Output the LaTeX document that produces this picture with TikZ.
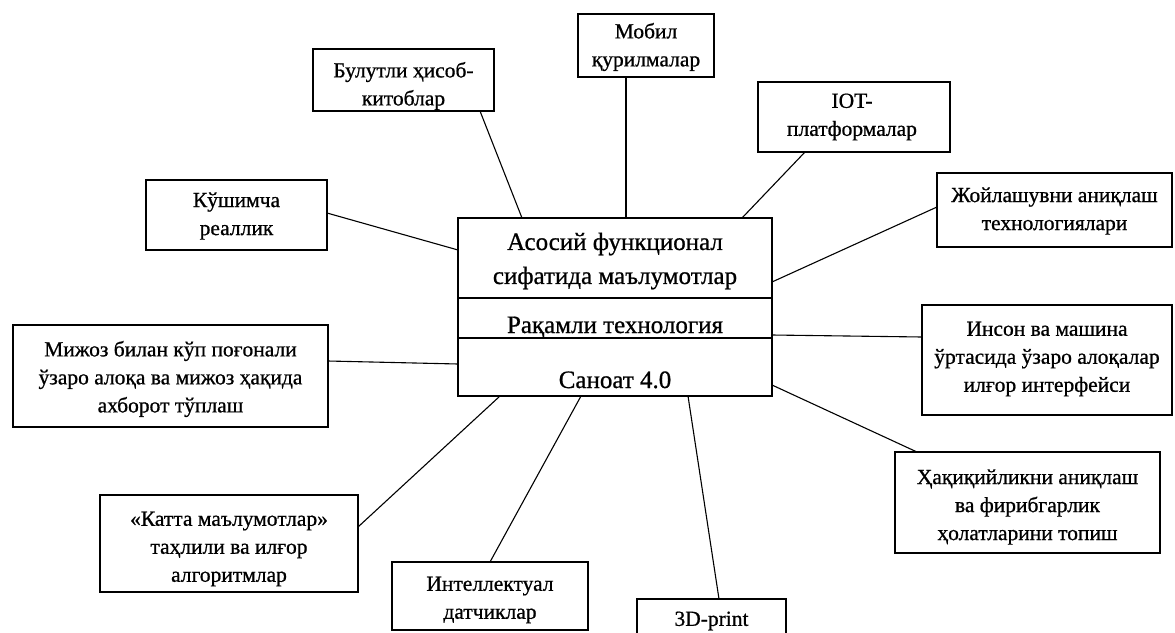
\documentclass[tikz,border=0pt]{standalone}
\usepackage{fontspec}
\setmainfont{Liberation Serif}
\newfontfamily\scanfont{Liberation Serif}[FakeBold=0.8]
\begin{document}
\begin{tikzpicture}[x=1pt,y=-1pt,
  frame/.style={draw, line width=1.1pt, inner sep=0pt},
  txt/.style={align=center, inner sep=0pt,
    font=\scanfont\fontsize{21.5}{28}\selectfont},
  ctxt/.style={align=center, inner sep=0pt,
    font=\scanfont\fontsize{25}{34}\selectfont},
  link/.style={line width=1.1pt}]
\useasboundingbox (0,0) rectangle (1175,632);
% central block
\node[frame, minimum width=314pt, minimum height=80pt] (c1) at (615,258) {};
\node[frame, minimum width=314pt, minimum height=40pt] (c2) at (615,318) {};
\node[frame, minimum width=314pt, minimum height=58pt] (c3) at (615,367) {};
\node[ctxt] (c1T) at (615,261) {Асосий функционал\\сифатида маълумотлар};
\node[ctxt, anchor=base] (c2T) at (615,333) {Рақамли технология};
\node[ctxt, anchor=base] (c3T) at (615,388) {Саноат 4.0};
% outer boxes
\node[frame, minimum width=181pt, minimum height=62pt] (cloud) at (403.5,80) {};
\node[txt] (cloudT) at (403.5,86) {Булутли ҳисоб-\\китоблар};
\node[frame, minimum width=136pt, minimum height=63pt] (mobile) at (646,45.5) {};
\node[txt] (mobileT) at (646,47) {Мобил\\қурилмалар};
\node[frame, minimum width=192pt, minimum height=70pt] (iot) at (854,117) {};
\node[txt] (iotT) at (852,117) {IOT-\\платформалар};
\node[frame, minimum width=235pt, minimum height=74pt] (place) at (1054.5,210) {};
\node[txt] (placeT) at (1054.5,211) {Жойлашувни аниқлаш\\технологиялари};
\node[frame, minimum width=181pt, minimum height=70pt] (ar) at (236.5,215) {};
\node[txt] (arT) at (236.5,216) {Кўшимча\\реаллик};
\node[frame, minimum width=315pt, minimum height=102pt] (client) at (170.5,376) {};
\node[txt] (clientT) at (170.5,379) {Мижоз билан кўп поғонали\\ўзаро алоқа ва мижоз ҳақида\\ахборот тўплаш};
\node[frame, minimum width=250pt, minimum height=110pt] (hmi) at (1047,360) {};
\node[txt] (hmiT) at (1047,359) {Инсон ва машина\\ўртасида ўзаро алоқалар\\илғор интерфейси};
\node[frame, minimum width=265pt, minimum height=101pt] (fraud) at (1027.5,502.5) {};
\node[txt] (fraudT) at (1027.5,507) {Ҳақиқийликни аниқлаш\\ва фирибгарлик\\ҳолатларини топиш};
\node[frame, minimum width=258pt, minimum height=97pt] (bigdata) at (229,543.5) {};
\node[txt] (bigdataT) at (229,549) {«Катта маълумотлар»\\таҳлили ва илғор\\алгоритмлар};
\node[frame, minimum width=196pt, minimum height=68pt] (sensors) at (490,596) {};
\node[txt] (sensorsT) at (490,600) {Интеллектуал\\датчиклар};
\node[frame, minimum width=149pt, minimum height=40pt] (print) at (711.5,619) {};
\node[txt] (printT) at (711.5,621) {3D-print};
% connector end points
\coordinate (cloudA) at (480,111);   \coordinate (cloudB) at (522,218);
\coordinate (mobA) at (626,77);      \coordinate (mobB) at (626,218);
\coordinate (iotA) at (805,152);     \coordinate (iotB) at (742,218);
\coordinate (placeA) at (937,207);   \coordinate (placeB) at (772,282);
\coordinate (arA) at (327,213);      \coordinate (arB) at (458,250);
\coordinate (clientA) at (328,361);  \coordinate (clientB) at (458,364);
\coordinate (hmiA) at (922,337);     \coordinate (hmiB) at (772,335);
\coordinate (fraudA) at (917,452);   \coordinate (fraudB) at (772,385);
\coordinate (bigA) at (358,527);     \coordinate (bigB) at (500,396);
\coordinate (senA) at (490,562);     \coordinate (senB) at (581,396);
\coordinate (printA) at (719,599);   \coordinate (printB) at (688,396);
\draw[link] (cloudA) -- (cloudB);
\draw[link] (mobA) -- (mobB);
\draw[link] (iotA) -- (iotB);
\draw[link] (placeA) -- (placeB);
\draw[link] (arA) -- (arB);
\draw[link] (clientA) -- (clientB);
\draw[link] (hmiA) -- (hmiB);
\draw[link] (fraudA) -- (fraudB);
\draw[link] (bigA) -- (bigB);
\draw[link] (senA) -- (senB);
\draw[link] (printA) -- (printB);
\end{tikzpicture}
\end{document}
